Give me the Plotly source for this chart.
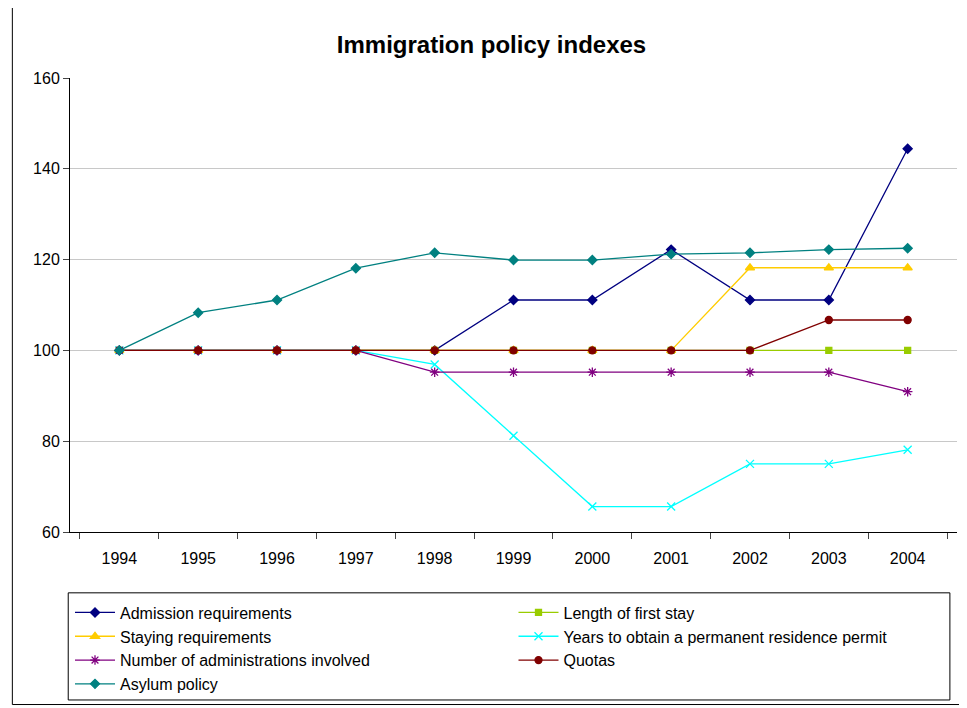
import plotly.graph_objects as go

years = ["1994","1995","1996","1997","1998","1999","2000","2001","2002","2003","2004"]
admission = [100,100,100,100,100,111.1,111.1,122.2,111.1,111.1,144.4]
length_stay = [100]*11
staying = [100,100,100,100,100,100,100,100,118.2,118.2,118.2]
years_perm = [100,100,100,100,96.9,81.2,65.6,65.6,75.0,75.0,78.1]
n_admin = [100,100,100,100,95.2,95.2,95.2,95.2,95.2,95.2,90.9]
quotas = [100,100,100,100,100,100,100,100,100,106.7,106.7]
asylum = [100,108.3,111.1,118.1,121.5,119.9,119.9,121.2,121.5,122.2,122.5]

series = [
    ("Admission requirements", admission, "#000080", "diamond", 7, "legend"),
    ("Length of first stay", length_stay, "#99CC00", "square", 6, "legend2"),
    ("Staying requirements", staying, "#FFCC00", "triangle-up", 8, "legend"),
    ("Years to obtain a permanent residence permit", years_perm, "#00FFFF", "x-thin-open", 8, "legend2"),
    ("Number of administrations involved", n_admin, "#800080", "asterisk-open", 8, "legend"),
    ("Quotas", quotas, "#800000", "circle", 7, "legend2"),
    ("Asylum policy", asylum, "#008080", "diamond", 7, "legend"),
]

fig = go.Figure()
for name, vals, col, sym, sz, lg in series:
    fig.add_trace(go.Scatter(x=years, y=vals, name=name, mode="lines+markers", legend=lg,
                             line=dict(color=col, width=1.3),
                             marker=dict(symbol=sym, size=sz, color=col, line=dict(color=col, width=1.3))))

leg_common = dict(orientation="v", yanchor="top", xanchor="left", font=dict(size=16),
                  bgcolor="rgba(0,0,0,0)", itemwidth=40, tracegroupgap=0)
fig.update_layout(
    width=967, height=708, paper_bgcolor="white", plot_bgcolor="white",
    font=dict(family="Liberation Sans, Arial", size=16, color="black"),
    title=dict(text="<b>Immigration policy indexes</b>", x=0.5, xanchor="center", y=0.96, font=dict(size=24)),
    margin=dict(l=62, r=18, t=70, b=184),
    xaxis=dict(type="category", tickson="boundaries", ticks="outside", ticklen=6, showgrid=False,
               showline=True, linecolor="black", mirror=False, tickfont=dict(size=16),
               ticklabelstandoff=12),
    yaxis=dict(range=[60,160], dtick=20, ticks="outside", ticklen=6, showgrid=True, gridcolor="#C8C8C8",
               showline=True, linecolor="black", zeroline=False, tickfont=dict(size=16)),
    legend=dict(x=0.0, y=-0.14, **leg_common),
    legend2=dict(x=0.5, y=-0.14, **leg_common),
    showlegend=True,
)
fig.add_shape(type="rect", xref="paper", yref="paper", x0=-0.002, x1=0.992, y0=-0.37, y1=-0.134,
              line=dict(color="black", width=1))
fig.add_shape(type="rect", xref="paper", yref="paper", x0=-0.065, x1=1.015, y0=-0.38, y1=1.16,
              line=dict(color="black", width=1))
fig.write_html("out.html")
